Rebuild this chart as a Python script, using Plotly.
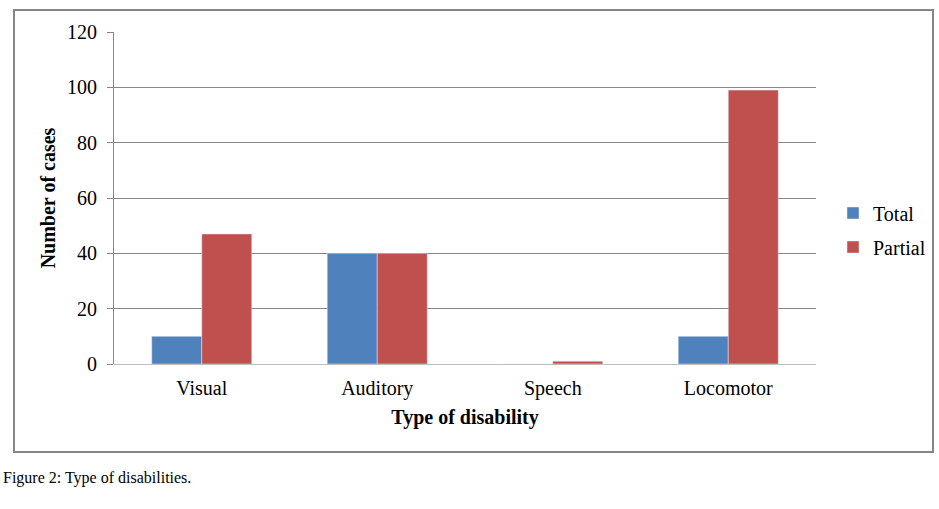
import plotly.graph_objects as go

categories = ["Visual", "Auditory", "Speech", "Locomotor"]
total_values = [10, 40, 0, 10]
partial_values = [47, 40, 1, 99]
y_ticks = [0, 20, 40, 60, 80, 100, 120]

FONT = "Liberation Serif"

fig = go.Figure()
fig.add_trace(go.Bar(name="Total", x=categories, y=total_values, marker_color="#4F81BD",
                     legendgroup="total"))
fig.add_trace(go.Bar(name="Partial", x=categories, y=partial_values, marker_color="#C0504D",
                     legendgroup="partial"))

L, R, T, B = 114, 123, 32, 145
pw, ph = 939 - L - R, 509 - T - B

def px(x):
    return (x - L) / pw

def py(y):
    return (509 - B - y) / ph

fig.update_layout(
    width=939, height=509,
    margin=dict(l=L, r=R, t=T, b=B, autoexpand=False),
    paper_bgcolor="white", plot_bgcolor="white",
    barmode="group", bargap=0.43, bargroupgap=0,
    font=dict(family=FONT, color="black", size=20),
    showlegend=True,
    legend=dict(x=px(833), y=py(230), xanchor="left", yanchor="middle",
                font=dict(family=FONT, size=20), tracegroupgap=5,
                itemwidth=30, bgcolor="rgba(0,0,0,0)"),
    xaxis=dict(
        showgrid=False, showline=False, ticks="", zeroline=False,
        tickfont=dict(family=FONT, size=20),
        ticklabelstandoff=10,
        title=dict(text="<b>Type of disability</b>", font=dict(family=FONT, size=20), standoff=10),
        automargin=False,
    ),
    yaxis=dict(
        range=[0, 120], tickvals=y_ticks,
        showgrid=True, gridcolor="#868686", gridwidth=1,
        showline=True, linecolor="#868686", linewidth=1,
        ticks="outside", ticklen=6, tickcolor="#868686",
        zeroline=True, zerolinecolor="#BFBFBF", zerolinewidth=1,
        tickfont=dict(family=FONT, size=20),
        ticklabelstandoff=6,
        title=dict(text="<b>Number of cases</b>", font=dict(family=FONT, size=20), standoff=6),
        automargin=False,
    ),
    shapes=[
        dict(type="rect", xref="paper", yref="paper",
             x0=px(14), x1=px(933), y0=py(452), y1=py(10),
             line=dict(color="#868686", width=2), fillcolor="rgba(0,0,0,0)", layer="below"),
    ],
    annotations=[
        dict(text="Figure 2: Type of disabilities.", xref="paper", yref="paper",
             x=px(1), y=py(478), xanchor="left", yanchor="middle", showarrow=False,
             font=dict(family=FONT, size=16, color="black")),
    ],
)

fig.write_html("out.html", config={"displayModeBar": False},
               post_script="document.body.style.margin='0';")
